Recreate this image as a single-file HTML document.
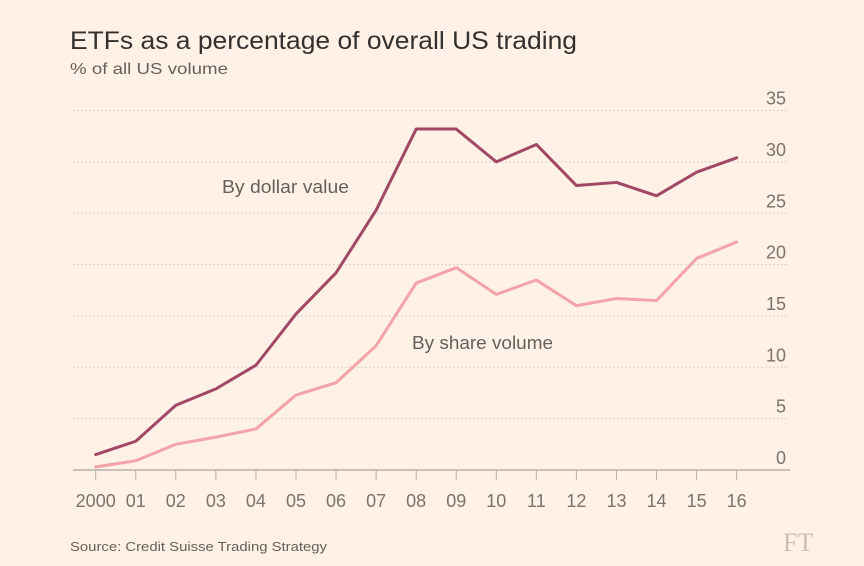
<!DOCTYPE html>
<html><head><meta charset="utf-8"><style>
body{margin:0;background:#fff1e5;}
svg{display:block;font-family:"Liberation Sans",sans-serif;}
</style></head><body>
<svg id="chart" width="864" height="566" viewBox="0 0 864 566">
<rect width="864" height="566" fill="#fff1e5"/>
<text x="70" y="49" font-size="25" fill="#33302e" textLength="507" lengthAdjust="spacingAndGlyphs">ETFs as a percentage of overall US trading</text>
<text x="70" y="74" font-size="16" fill="#66605c" textLength="158" lengthAdjust="spacingAndGlyphs">% of all US volume</text>
<g id="grid"></g><g id="xaxis"></g><g id="lines"></g>
<text x="222" y="193" font-size="18" fill="#66605c" textLength="127" lengthAdjust="spacingAndGlyphs">By dollar value</text>
<text x="412" y="349" font-size="18" fill="#66605c" textLength="141" lengthAdjust="spacingAndGlyphs">By share volume</text>
<text x="70" y="551" font-size="13" fill="#66605c" textLength="257" lengthAdjust="spacingAndGlyphs">Source: Credit Suisse Trading Strategy</text>
<text x="783" y="551" font-size="26" font-family="Liberation Serif,serif" fill="#c9beb5">FT</text>
</svg>
<script>
const years=["2000","01","02","03","04","05","06","07","08","09","10","11","12","13","14","15","16"];
const dollarValue=[1.5,2.8,6.3,7.9,10.2,15.2,19.2,25.3,33.2,33.2,30,31.7,27.7,28.0,26.7,29.0,30.4];
const shareVolume=[0.3,0.9,2.5,3.2,4.0,7.3,8.5,12.1,18.2,19.7,17.1,18.5,16.0,16.7,16.5,20.6,22.2];
const yTicks=[0,5,10,15,20,25,30,35];
const NS="http://www.w3.org/2000/svg";
const x=i=>95.7+i*40.06;
const y=v=>470-v*10.27;
function mk(tag,attrs,parent){const e=document.createElementNS(NS,tag);for(const k in attrs)e.setAttribute(k,attrs[k]);parent.appendChild(e);return e;}
const grid=document.getElementById('grid'),xa=document.getElementById('xaxis'),lines=document.getElementById('lines');
yTicks.forEach(t=>{
 if(t>0){const l=mk('line',{x1:73,x2:788,y1:y(t),y2:y(t),stroke:'#cfc5bc','stroke-dasharray':'1.5 2.5','stroke-width':1},grid);
 
 }
 const tx=mk('text',{x:786,y:y(t)-6,'text-anchor':'end','font-size':18,fill:'#7a736e'},grid);
 tx.textContent=t;
 
 
});
const ax=mk('line',{x1:73,x2:790,y1:470,y2:470,stroke:'#b8b0a9','stroke-width':1.5},xa);


years.forEach((yr,i)=>{
 const tk=mk('line',{x1:x(i),x2:x(i),y1:470,y2:480,stroke:'#b8b0a9','stroke-width':1},xa);
 
 
 const tx=mk('text',{x:x(i),y:507,'text-anchor':'middle','font-size':18,fill:'#7a736e'},xa);
 tx.textContent=yr;
 
 
});
function series(vals,color,name){
 const p=mk('polyline',{points:vals.map((v,i)=>x(i)+','+y(v)).join(' '),fill:'none',stroke:color,'stroke-width':3,'stroke-linejoin':'round','stroke-linecap':'round'},lines);
 
 
}
series(shareVolume,'#f4a3a8','share-volume-line');
series(dollarValue,'#a04866','dollar-value-line');
</script>
</body></html>
